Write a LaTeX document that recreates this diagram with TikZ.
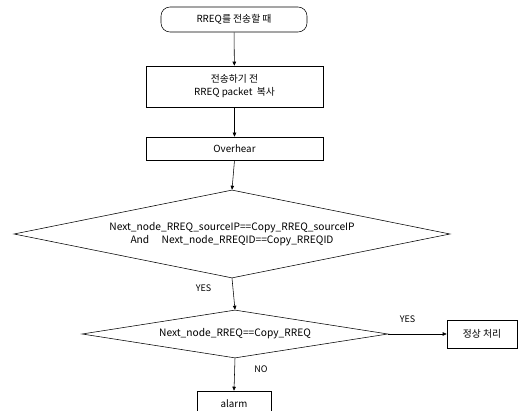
\documentclass[tikz,border=0pt]{standalone}
\usepackage{fontspec}
\setmainfont{Noto Sans CJK KR}
\usetikzlibrary{shapes.geometric, arrows.meta}

\tikzset{
    box/.style={draw, rectangle, inner sep=0pt, align=center, font=\fontsize{9.8}{13}\selectfont},
    decision/.style={draw, diamond, inner sep=0pt, aspect=5, align=center, font=\fontsize{10.2}{13}\selectfont},
    flow/.style={-{Triangle[length=4pt, width=3.5pt]}, line width=0.55pt},
    tag/.style={font=\fontsize{9}{10}\selectfont}
}

\begin{document}
\begin{tikzpicture}[x=1pt, y=-1pt, line width=0.55pt]
    \useasboundingbox (0,0) rectangle (530,411);

    % Create steps
    \node[box, rounded corners=9pt, minimum width=146pt, minimum height=25pt] (start) at (234,19.5) {RREQ를 전송할 때};
    \node[box, minimum width=177pt, minimum height=41pt] (copy) at (234.5,86.5) {전송하기 전\\RREQ packet \ 복사};
    \node[box, minimum width=177pt, minimum height=23pt] (overhear) at (234.5,148.5) {Overhear};

    % Create decisions
    \node[decision, minimum width=436pt, minimum height=88pt] (check) at (232,234)
        {Next\_node\_RREQ\_sourceIP==Copy\_RREQ\_sourceIP\\And \quad Next\_node\_RREQID==Copy\_RREQID};
    \node[decision, minimum width=306pt, minimum height=48pt] (compare) at (235,334) {Next\_node\_RREQ==Copy\_RREQ};

    % Create results
    \node[box, minimum width=70pt, minimum height=28pt] (normal) at (482,334) {정상 처리};
    \node[box, minimum width=74pt, minimum height=26pt] (alarm) at (234,404) {alarm};

    % Draw edges
    \draw[flow] (start) -- (copy);
    \draw[flow] (copy) -- (overhear);
    \draw[flow] (overhear.south) -- (check.north);
    \draw[flow] (check.south) -- node[tag, left=18pt, pos=0.3] (yes1) {YES} (compare.north);
    \draw[flow] (compare.east) -- node[tag, above=8pt, pos=0.33] (yes2) {YES} (normal.west);
    \draw[flow] (compare.south) -- node[tag, right=16pt, pos=0.35] (no) {NO} (alarm.north);
\end{tikzpicture}
\end{document}
